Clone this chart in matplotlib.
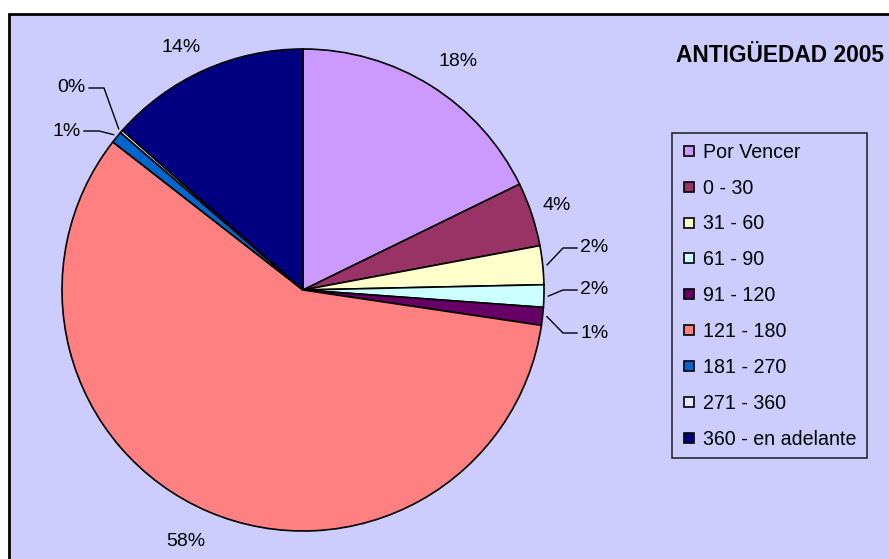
import numpy as np
import matplotlib
matplotlib.use("Agg")
import matplotlib.pyplot as plt
from matplotlib.patches import Rectangle
from matplotlib.lines import Line2D

plt.rcParams['font.family'] = ['Liberation Sans', 'DejaVu Sans']

# datos
categorias = ["Por Vencer", "0 - 30", "31 - 60", "61 - 90", "91 - 120",
              "121 - 180", "181 - 270", "271 - 360", "360 - en adelante"]
valores = [17.8, 4.3, 2.6, 1.5, 1.2, 58.3, 0.8, 0.2, 13.5]
etiquetas = ["18%", "4%", "2%", "2%", "1%", "58%", "1%", "0%", "14%"]
colores = ["#CC99FF", "#993366", "#FFFFCC", "#CCFFFF", "#660066",
           "#FF8080", "#0066CC", "#E6E6FF", "#000080"]
titulo = "ANTIGÜEDAD 2005"

W, H = 889, 559
fig = plt.figure(figsize=(W / 100, H / 100), dpi=100)
fig.patch.set_facecolor("white")
ax = fig.add_axes([0, 0, 1, 1])

# fondo del grafico
ax.add_patch(Rectangle((9, -20), W + 20, H - 14 + 20, facecolor="#CCCCFF",
                       edgecolor="black", lw=2, zorder=0))

cx, cy, R = 303, H - 290, 241
explode = [0, 0, 0, 0.01, 0, 0, 0, 0, 0]
wedges, _ = ax.pie(valores, colors=colores, startangle=90, counterclock=False,
                   center=(cx, cy), radius=R, explode=explode,
                   wedgeprops=dict(edgecolor="black", linewidth=1.2),
                   frame=True)
ax.set_xlim(0, W)
ax.set_ylim(0, H)
ax.set_aspect("equal")
ax.axis("off")

fs = 14
# posicion de etiquetas (pixeles desde arriba); las pequeñas con linea guia
pos_etq = {0: (458, 62, "center"), 1: (557, 205, "center"),
           2: (580, 248, "right"), 3: (580, 290, "right"), 4: (580, 333, "right"),
           5: (186, 541, "center"), 6: (81, 131, "left"), 7: (86, 88, "left"),
           8: (181, 48, "center")}
for i, w in enumerate(wedges):
    ang = np.deg2rad((w.theta1 + w.theta2) / 2)
    tx, ty, lado = pos_etq[i]
    ty = H - ty
    px = cx + R * np.cos(ang) * 1.01
    py = cy + R * np.sin(ang) * 1.01
    if lado == "right":
        codo = tx - 17
        ax.plot([px + 2, codo, tx - 3], [py, ty, ty], color="black", lw=1)
        ax.text(tx, ty, etiquetas[i], ha="left", va="center", fontsize=fs)
    elif lado == "left":
        codo = tx + 18
        ax.plot([px - 1, codo, tx + 3], [py + 1, ty, ty], color="black", lw=1)
        ax.text(tx, ty, etiquetas[i], ha="right", va="center", fontsize=fs)
    else:
        ax.text(tx, ty, etiquetas[i], ha="center", va="center", fontsize=fs)

ax.text(676, H - 55, titulo, ha="left", va="center", fontsize=16.4,
        fontweight="bold")

handles = [Line2D([], [], marker="s", linestyle="none", markersize=7.5,
                  markerfacecolor=c, markeredgecolor="black", markeredgewidth=1.2)
           for c in colores]
leg = ax.legend(handles, categorias, loc="upper left",
                bbox_to_anchor=(672 / W, 1 - 133 / H), fontsize=14.1,
                frameon=True, fancybox=False, labelspacing=0.86,
                handlelength=0.7, handletextpad=0.4, borderpad=0.5,
                borderaxespad=0)
leg.get_frame().set_edgecolor("black")
leg.get_frame().set_facecolor("#CCCCFF")
leg.get_frame().set_linewidth(1.2)

fig.savefig("out.png", dpi=100, facecolor=fig.get_facecolor())
